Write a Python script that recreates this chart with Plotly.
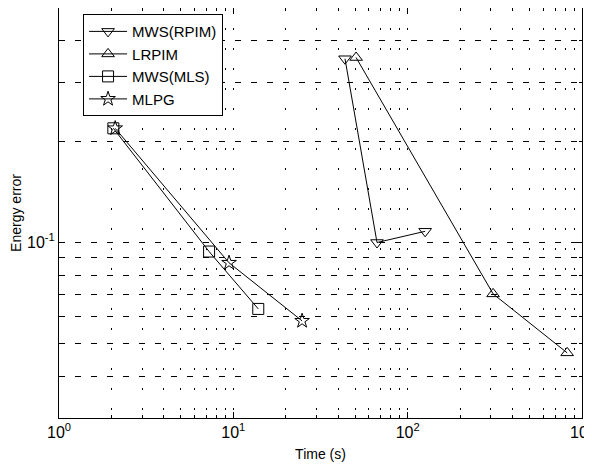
import plotly.graph_objects as go

series_names = ["MWS(RPIM)", "LRPIM", "MWS(MLS)", "MLPG"]
series_symbols = ["triangle-down-open", "triangle-up-open", "square-open", "star-open"]

mws_rpim_time = [43.7, 66.7, 126.0]
mws_rpim_err = [0.353, 0.100, 0.108]

lrpim_time = [50.6, 309.0, 822.0]
lrpim_err = [0.356, 0.0703, 0.0469]

mws_mls_time = [2.05, 7.26, 13.9]
mws_mls_err = [0.219, 0.094, 0.0634]

mlpg_time = [2.1, 9.45, 24.8]
mlpg_err = [0.219, 0.087, 0.0584]

x_tickvals = [1, 10, 100, 1000]
x_ticktext = ["10<sup>0</sup>", "10<sup>1</sup>", "10<sup>2</sup>", "10<sup>3</sup>"]
x_minorvals = [2, 3, 4, 5, 6, 7, 8, 9, 20, 30, 40, 50, 60, 70, 80, 90,
               200, 300, 400, 500, 600, 700, 800, 900]
y_tickvals = [0.1]
y_ticktext = ["10<sup>-1</sup>"]
y_minorvals = [0.03, 0.04, 0.05, 0.06, 0.07, 0.08, 0.09, 0.2, 0.3, 0.4, 0.5]

xs = [mws_rpim_time, lrpim_time, mws_mls_time, mlpg_time]
ys = [mws_rpim_err, lrpim_err, mws_mls_err, mlpg_err]

fig = go.Figure()
for name, sym, x, y in zip(series_names, series_symbols, xs, ys):
    fig.add_trace(go.Scatter(
        x=x, y=y, name=name, mode="lines+markers",
        line=dict(color="black", width=1),
        marker=dict(symbol=sym, size=11, color="black", line=dict(color="black", width=1)),
    ))

font_family = "Liberation Sans, Arial, Helvetica, sans-serif"
axis_common = dict(
    showline=True, linecolor="black", linewidth=1, mirror="ticks",
    ticks="inside", ticklen=6, tickcolor="black",
    showgrid=True, gridcolor="black", gridwidth=1,
    zeroline=False, automargin=False, ticklabeloverflow="allow",
    tickfont=dict(size=16, color="black", family=font_family),
)

fig.update_xaxes(
    type="log", range=[0, 3], tickvals=x_tickvals, ticktext=x_ticktext,
    griddash="2px,18px",
    minor=dict(tickmode="array", tickvals=x_minorvals, showgrid=True, ticks="inside",
               ticklen=3, tickcolor="black", gridcolor="black", griddash="2px,18px", gridwidth=1),
    title=dict(text="Time (s)", font=dict(size=14, color="black", family=font_family), standoff=8),
    **axis_common,
)
fig.update_yaxes(
    type="log", range=[-1.523, -0.301], tickvals=y_tickvals, ticktext=y_ticktext,
    griddash="6px,10px",
    minor=dict(tickmode="array", tickvals=y_minorvals, showgrid=True, ticks="inside",
               ticklen=3, tickcolor="black", gridcolor="black", griddash="6px,10px", gridwidth=1),
    title=dict(text="Energy error", font=dict(size=14, color="black", family=font_family), standoff=6),
    **axis_common,
)

fig.update_layout(
    width=584, height=463,
    margin=dict(l=51, r=10, t=0, b=53),
    plot_bgcolor="white", paper_bgcolor="white",
    font=dict(family=font_family, color="black"),
    showlegend=True,
    legend=dict(
        x=0.046, y=0.985, xanchor="left", yanchor="top",
        bgcolor="white", bordercolor="black", borderwidth=1,
        font=dict(size=15, color="black", family=font_family),
        tracegroupgap=0, itemwidth=38,
    ),
)

fig.write_html("out.html")
